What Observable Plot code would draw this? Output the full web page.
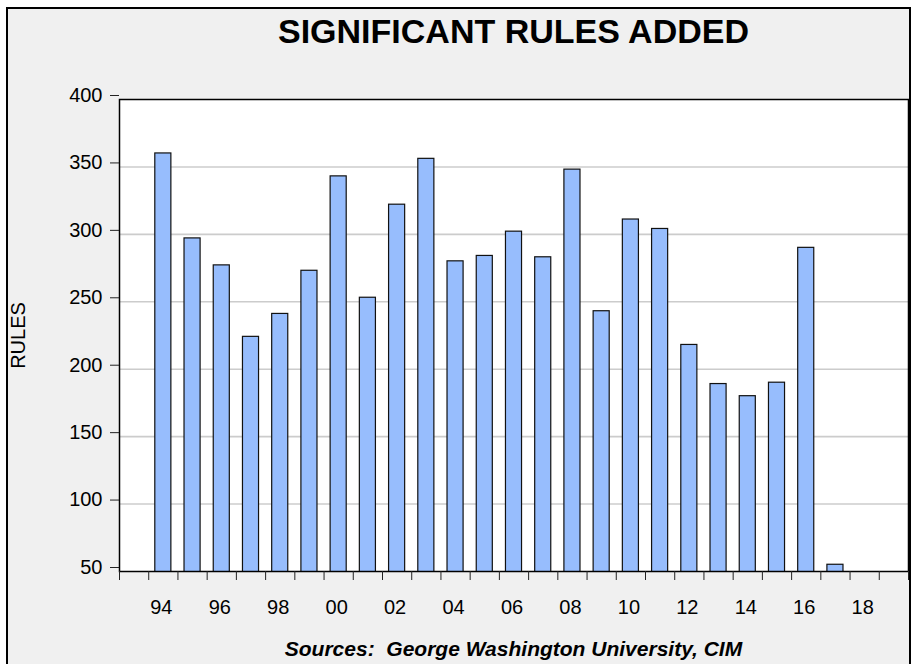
<!DOCTYPE html>
<html>
<head>
<meta charset="utf-8">
<script src="https://cdn.jsdelivr.net/npm/d3@7"></script>
<script src="https://cdn.jsdelivr.net/npm/@observablehq/plot@0.6"></script>
<style>
  html, body { margin: 0; padding: 0; background: #ffffff; overflow: hidden; width: 912px; height: 664px; }
  #box { position: absolute; left: 6px; top: 7px; width: 905px; height: 720px; box-sizing: border-box;
         border: 2px solid #000; background: #f0f0f0; }
  #title { position: absolute; left: 119px; width: 789px; top: 14px; text-align: center;
           font: bold 34px "Liberation Sans", Arial, sans-serif; line-height: 34px; color: #000; }
  #chart { position: absolute; left: 0; top: 80px; }
  #caption { position: absolute; left: 119px; width: 789px; top: 638px; text-align: center; white-space: pre;
             font: italic bold 21px "Liberation Sans", Arial, sans-serif; line-height: 21px; color: #000; }
</style>
</head>
<body>
<div id="box"></div>
<div id="title">SIGNIFICANT RULES ADDED</div>
<div id="chart"></div>
<div id="caption">Sources:  George Washington University, CIM</div>
<script>
const years = [1994, 1995, 1996, 1997, 1998, 1999, 2000, 2001, 2002, 2003, 2004, 2005,
               2006, 2007, 2008, 2009, 2010, 2011, 2012, 2013, 2014, 2015, 2016, 2017];
const rules = [360, 297, 277, 224, 241, 273, 343, 253, 322, 356, 280, 284,
               302, 283, 348, 243, 311, 304, 218, 189, 180, 190, 290, 55];
const yTicks = [50, 100, 150, 200, 250, 300, 350, 400];
const gridTicks = [100, 150, 200, 250, 300, 350];
const xLabelYears = [1994, 1996, 1998, 2000, 2002, 2004, 2006, 2008, 2010, 2012, 2014, 2016, 2018];
const xDomain = [1992.5, 2019.5];
const yDomain = [50, 400];

const data = years.map((year, i) => ({year, rules: rules[i]}));
const boundaryTicks = d3.range(xDomain[0], xDomain[1] + 0.01, 1);
const halfBar = 0.275;

const chart = Plot.plot({
  width: 912,
  height: 545,
  marginTop: 19,
  marginBottom: 54,
  marginLeft: 119,
  marginRight: 4,
  style: {background: "transparent", fontFamily: "'Liberation Sans', Arial, sans-serif", color: "#000"},
  x: {type: "linear", domain: xDomain},
  y: {domain: yDomain},
  marks: [
    Plot.frame({fill: "white", stroke: "none"}),
    Plot.gridY(gridTicks, {stroke: "#cccccc", strokeOpacity: 1, strokeWidth: 1.6}),
    Plot.rectY(data, {
      x1: d => d.year - halfBar,
      x2: d => d.year + halfBar,
      y: "rules",
      fill: "#97bdfd",
      stroke: "#111",
      strokeWidth: 1.2,
      clip: true
    }),
    Plot.frame({stroke: "#000", strokeWidth: 1.5}),
    Plot.axisY({ticks: yTicks, tickSize: 9, tickPadding: 8, fontSize: 20, dy: -4, label: null, stroke: "#222"}),
    Plot.axisX({ticks: boundaryTicks, tickSize: 9, tickFormat: () => "", label: null, stroke: "#222"}),
    Plot.axisX({ticks: xLabelYears, tickSize: 0, tickPadding: 28, fontSize: 20, dx: -2,
                tickFormat: d => String(d).slice(2), label: null}),
    Plot.text(["RULES"], {frameAnchor: "left", textAnchor: "middle", rotate: -90, dx: -101, fontSize: 20, fill: "#000"})
  ]
});
document.getElementById("chart").appendChild(chart);
</script>
</body>
</html>
